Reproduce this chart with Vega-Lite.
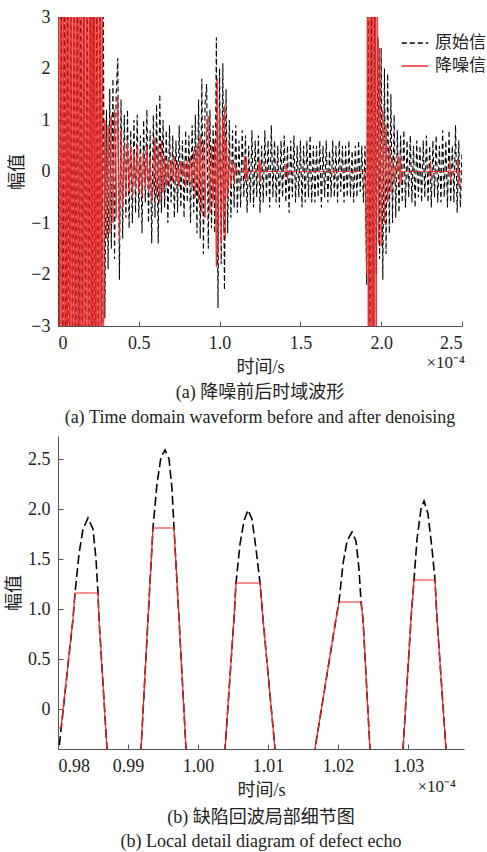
{
"$schema": "https://vega.github.io/schema/vega-lite/v6.json",
"background": "white",
"padding": {"left": 5, "top": 8, "right": 0, "bottom": 0},
"spacing": 9,
"resolve": {"scale": {"x": "independent", "y": "independent", "color": "independent", "strokeDash": "independent"}},
"config": {
  "view": {"stroke": null},
  "axis": {"grid": false, "domainColor": "#555", "tickColor": "#555", "tickSize": -5, "labelFont": "Liberation Serif, Times New Roman, serif", "labelFontSize": 18, "labelColor": "#222", "labelPadding": 13, "titleFont": "Liberation Serif, Noto Sans CJK SC", "titleFontSize": 18, "titleFontWeight": "normal", "titleColor": "#222"},
  "legend": {"padding": 0}
},
"datasets": {
"o": [{"t":0,"v":0},{"t":0.01,"v":-3.5},{"t":0.02,"v":4.6},{"t":0.03,"v":-4.5},{"t":0.04,"v":4.2},{"t":0.05,"v":-4.8},{"t":0.06,"v":4.7},{"t":0.07,"v":-4.4},{"t":0.08,"v":4.5},{"t":0.09,"v":-4.6},{"t":0.10,"v":4.8},{"t":0.11,"v":-4.3},{"t":0.12,"v":4.4},{"t":0.13,"v":-4.7},{"t":0.14,"v":4.6},{"t":0.15,"v":-4.5},{"t":0.16,"v":4.3},{"t":0.17,"v":-4.6},{"t":0.18,"v":4.7},{"t":0.19,"v":-4.4},{"t":0.20,"v":4.5},{"t":0.21,"v":-4.8},{"t":0.22,"v":4.6},{"t":0.23,"v":-4.5},{"t":0.24,"v":4.4},{"t":0.25,"v":-4.6},{"t":0.26,"v":4.5},{"t":0.27,"v":-4.7},{"t":0.28,"v":3.4},{"t":0.29,"v":-2.85},
{"t":0.30,"v":1.2},{"t":0.31,"v":-1.9},{"t":0.32,"v":1.6},{"t":0.33,"v":-1.5},{"t":0.34,"v":1.8},{"t":0.35,"v":-1.7},{"t":0.36,"v":1.5},{"t":0.37,"v":2.2},{"t":0.38,"v":-2.1},{"t":0.39,"v":1.4},{"t":0.40,"v":-1.3},{"t":0.41,"v":1.1},{"t":0.42,"v":-0.9},{"t":0.43,"v":1.2},{"t":0.44,"v":-1.1},{"t":0.45,"v":0.8},{"t":0.46,"v":-1.0},{"t":0.47,"v":1.0},{"t":0.48,"v":-0.8},{"t":0.49,"v":1.1},{"t":0.50,"v":-0.9},{"t":0.51,"v":0.7},{"t":0.52,"v":-1.2},{"t":0.53,"v":1.0},{"t":0.54,"v":-0.6},{"t":0.55,"v":1.2},{"t":0.56,"v":-1.0},{"t":0.57,"v":0.8},{"t":0.58,"v":-1.4},{"t":0.59,"v":1.1},{"t":0.60,"v":-0.9},{"t":0.61,"v":1.3},{"t":0.62,"v":-1.4},{"t":0.63,"v":1.5},{"t":0.64,"v":-0.8},{"t":0.65,"v":1.0},{"t":0.66,"v":-0.7},{"t":0.67,"v":0.8},{"t":0.68,"v":-1.0},{"t":0.69,"v":0.9},{"t":0.70,"v":-0.6},{"t":0.71,"v":0.7},{"t":0.72,"v":-0.9},{"t":0.73,"v":0.6},{"t":0.74,"v":-0.8},{"t":0.75,"v":0.9},{"t":0.76,"v":-0.7},{"t":0.77,"v":0.6},{"t":0.78,"v":-0.9},{"t":0.79,"v":0.8},{"t":0.80,"v":-0.6},{"t":0.81,"v":0.7},{"t":0.82,"v":-1.0},{"t":0.83,"v":0.9},{"t":0.84,"v":-0.8},{"t":0.85,"v":1.1},{"t":0.86,"v":-1.2},{"t":0.87,"v":1.4},{"t":0.88,"v":-1.3},{"t":0.89,"v":1.8},{"t":0.90,"v":-1.6},{"t":0.91,"v":1.3},{"t":0.92,"v":1.7},{"t":0.93,"v":-1.5},{"t":0.94,"v":1.2},{"t":0.95,"v":-1.1},{"t":0.96,"v":0.9},{"t":0.97,"v":-1.2},{"t":0.98,"v":2.6},{"t":0.99,"v":-2.65},
{"t":1.00,"v":2.0},{"t":1.01,"v":-1.8},{"t":1.02,"v":2.1},{"t":1.03,"v":-2.3},{"t":1.04,"v":1.6},{"t":1.05,"v":-1.2},{"t":1.06,"v":1.0},{"t":1.07,"v":-0.9},{"t":1.08,"v":0.8},{"t":1.09,"v":-0.7},{"t":1.10,"v":0.9},{"t":1.11,"v":-0.8},{"t":1.12,"v":0.6},{"t":1.13,"v":-0.7},{"t":1.14,"v":0.8},{"t":1.15,"v":-0.5},{"t":1.16,"v":0.7},{"t":1.17,"v":-0.8},{"t":1.18,"v":0.5},{"t":1.19,"v":-0.6},{"t":1.20,"v":0.8},{"t":1.21,"v":-0.7},{"t":1.22,"v":0.6},{"t":1.23,"v":-0.5},{"t":1.24,"v":0.7},{"t":1.25,"v":-0.8},{"t":1.26,"v":0.5},{"t":1.27,"v":-0.6},{"t":1.28,"v":0.8},{"t":1.29,"v":-0.5},{"t":1.30,"v":0.6},{"t":1.31,"v":-0.7},{"t":1.32,"v":0.9},{"t":1.33,"v":-0.5},{"t":1.34,"v":0.6},{"t":1.35,"v":-0.6},{"t":1.36,"v":0.5},{"t":1.37,"v":-0.7},{"t":1.38,"v":0.6},{"t":1.39,"v":-0.5},{"t":1.40,"v":0.7},{"t":1.41,"v":-0.6},{"t":1.42,"v":0.5},{"t":1.43,"v":-0.8},{"t":1.44,"v":0.6},{"t":1.45,"v":-0.5},{"t":1.46,"v":0.7},{"t":1.47,"v":-0.6},{"t":1.48,"v":0.5},{"t":1.49,"v":-0.5},{"t":1.50,"v":0.6},{"t":1.51,"v":-0.7},{"t":1.52,"v":0.5},{"t":1.53,"v":-0.6},{"t":1.54,"v":0.6},{"t":1.55,"v":-0.5},{"t":1.56,"v":0.7},{"t":1.57,"v":-0.6},{"t":1.58,"v":0.5},{"t":1.59,"v":-0.6},{"t":1.60,"v":0.5},{"t":1.61,"v":-0.5},{"t":1.62,"v":0.6},{"t":1.63,"v":-0.7},{"t":1.64,"v":0.5},{"t":1.65,"v":-0.5},{"t":1.66,"v":0.6},{"t":1.67,"v":-0.6},{"t":1.68,"v":0.4},{"t":1.69,"v":-0.5},{"t":1.70,"v":0.6},{"t":1.71,"v":-0.5},{"t":1.72,"v":0.5},{"t":1.73,"v":-0.6},{"t":1.74,"v":0.6},{"t":1.75,"v":-0.4},{"t":1.76,"v":0.5},{"t":1.77,"v":-0.6},{"t":1.78,"v":0.5},{"t":1.79,"v":-0.5},{"t":1.80,"v":0.6},{"t":1.81,"v":-0.5},{"t":1.82,"v":0.4},{"t":1.83,"v":-0.6},{"t":1.84,"v":0.5},{"t":1.85,"v":-0.5},{"t":1.86,"v":0.6},{"t":1.87,"v":-0.4},{"t":1.88,"v":0.5},{"t":1.89,"v":-0.6},{"t":1.90,"v":0.5},{"t":1.91,"v":-2.2},{"t":1.92,"v":3.5},{"t":1.93,"v":-3.5},{"t":1.94,"v":3.5},{"t":1.95,"v":-3.5},{"t":1.96,"v":3.5},{"t":1.97,"v":-2.0},{"t":1.98,"v":2.6},{"t":1.99,"v":-1.7},
{"t":2.00,"v":2.4},{"t":2.01,"v":-2.1},{"t":2.02,"v":2.0},{"t":2.03,"v":-1.6},{"t":2.04,"v":1.9},{"t":2.05,"v":-1.2},{"t":2.06,"v":1.5},{"t":2.07,"v":-1.0},{"t":2.08,"v":1.1},{"t":2.09,"v":-0.9},{"t":2.10,"v":0.8},{"t":2.11,"v":-0.8},{"t":2.12,"v":0.7},{"t":2.13,"v":-0.6},{"t":2.14,"v":0.8},{"t":2.15,"v":-0.7},{"t":2.16,"v":0.6},{"t":2.17,"v":-0.5},{"t":2.18,"v":0.7},{"t":2.19,"v":-0.6},{"t":2.20,"v":0.5},{"t":2.21,"v":-0.7},{"t":2.22,"v":0.6},{"t":2.23,"v":-0.5},{"t":2.24,"v":0.5},{"t":2.25,"v":-0.6},{"t":2.26,"v":0.6},{"t":2.27,"v":-0.5},{"t":2.28,"v":0.7},{"t":2.29,"v":-0.6},{"t":2.30,"v":0.5},{"t":2.31,"v":-0.7},{"t":2.32,"v":0.6},{"t":2.33,"v":-0.5},{"t":2.34,"v":0.7},{"t":2.35,"v":-0.6},{"t":2.36,"v":0.5},{"t":2.37,"v":-0.6},{"t":2.38,"v":0.8},{"t":2.39,"v":-0.5},{"t":2.40,"v":0.6},{"t":2.41,"v":-0.7},{"t":2.42,"v":0.8},{"t":2.43,"v":-0.6},{"t":2.44,"v":0.5},{"t":2.45,"v":-0.6},{"t":2.46,"v":0.9},{"t":2.47,"v":-0.8},{"t":2.48,"v":0.6},{"t":2.49,"v":-0.7},{"t":2.50,"v":0.4}],
"d": [{"t":0,"v":0},{"t":0.005,"v":4.8},{"t":0.01,"v":-4.9},{"t":0.015,"v":5.0},{"t":0.02,"v":-4.7},{"t":0.025,"v":4.9},{"t":0.03,"v":-5.0},{"t":0.035,"v":4.8},{"t":0.04,"v":-4.9},{"t":0.045,"v":5.0},{"t":0.05,"v":-4.8},{"t":0.055,"v":4.7},{"t":0.06,"v":-5.0},{"t":0.065,"v":4.9},{"t":0.07,"v":-4.8},{"t":0.075,"v":5.0},{"t":0.08,"v":-4.9},{"t":0.085,"v":4.8},{"t":0.09,"v":-4.7},{"t":0.095,"v":5.0},{"t":0.10,"v":-4.9},{"t":0.105,"v":4.8},{"t":0.11,"v":-5.0},{"t":0.115,"v":4.9},{"t":0.12,"v":-4.8},{"t":0.125,"v":4.7},{"t":0.13,"v":-4.9},{"t":0.135,"v":5.0},{"t":0.14,"v":-4.8},{"t":0.145,"v":4.9},{"t":0.15,"v":-5.0},{"t":0.155,"v":4.8},{"t":0.16,"v":-4.9},{"t":0.165,"v":5.0},{"t":0.17,"v":-4.7},{"t":0.175,"v":4.9},{"t":0.18,"v":-5.0},{"t":0.185,"v":4.8},{"t":0.19,"v":-4.9},{"t":0.195,"v":5.0},{"t":0.20,"v":-4.8},{"t":0.205,"v":4.7},{"t":0.21,"v":-5.0},{"t":0.215,"v":4.9},{"t":0.22,"v":-4.8},{"t":0.225,"v":5.0},{"t":0.23,"v":-4.9},{"t":0.235,"v":4.8},{"t":0.24,"v":-4.7},{"t":0.245,"v":5.0},{"t":0.25,"v":-4.9},{"t":0.255,"v":4.8},{"t":0.26,"v":-5.0},{"t":0.265,"v":4.9},{"t":0.27,"v":-4.8},{"t":0.275,"v":4.7},{"t":0.28,"v":-4.8},{"t":0.29,"v":1.0},
{"t":0.30,"v":-1.3},{"t":0.31,"v":0.9},{"t":0.32,"v":-1.2},{"t":0.33,"v":1.1},{"t":0.34,"v":-1.0},{"t":0.35,"v":1.2},{"t":0.36,"v":-0.9},{"t":0.37,"v":1.44},{"t":0.38,"v":-1.35},{"t":0.39,"v":0.8},{"t":0.40,"v":-0.7},{"t":0.41,"v":0.5},{"t":0.42,"v":-0.5},{"t":0.43,"v":0.6},{"t":0.44,"v":-0.4},{"t":0.45,"v":0.5},{"t":0.46,"v":-0.5},{"t":0.47,"v":0.4},{"t":0.48,"v":-0.3},{"t":0.49,"v":0.5},{"t":0.50,"v":-0.4},{"t":0.51,"v":0.3},{"t":0.52,"v":-0.5},{"t":0.53,"v":0.4},{"t":0.54,"v":-0.3},{"t":0.55,"v":0.5},{"t":0.56,"v":-0.4},{"t":0.57,"v":0.3},{"t":0.58,"v":-0.6},{"t":0.59,"v":-0.3},{"t":0.60,"v":0.65},{"t":0.61,"v":-0.5},{"t":0.62,"v":0.5},{"t":0.63,"v":-0.6},{"t":0.64,"v":0.6},{"t":0.65,"v":-0.4},{"t":0.66,"v":0.3},{"t":0.67,"v":-0.3},{"t":0.68,"v":0.2},{"t":0.69,"v":-0.3},{"t":0.70,"v":0.2},{"t":0.71,"v":-0.2},{"t":0.72,"v":0.3},{"t":0.73,"v":-0.2},{"t":0.74,"v":0.2},{"t":0.75,"v":-0.3},{"t":0.76,"v":0.2},{"t":0.77,"v":-0.1},{"t":0.78,"v":0.2},{"t":0.79,"v":-0.3},{"t":0.80,"v":0.2},{"t":0.81,"v":-0.2},{"t":0.82,"v":0.3},{"t":0.83,"v":-0.3},{"t":0.84,"v":0.4},{"t":0.85,"v":-0.5},{"t":0.86,"v":0.5},{"t":0.87,"v":-0.6},{"t":0.88,"v":0.7},{"t":0.89,"v":-0.8},{"t":0.90,"v":0.6},{"t":0.91,"v":-0.9},{"t":0.92,"v":0.8},{"t":0.93,"v":1.08},{"t":0.94,"v":-0.8},{"t":0.95,"v":0.5},{"t":0.96,"v":-0.6},{"t":0.97,"v":0.6},{"t":0.98,"v":-1.85},{"t":0.985,"v":1.8},{"t":0.99,"v":-1.6},{"t":1.00,"v":1.25},{"t":1.01,"v":-1.4},{"t":1.02,"v":1.06},{"t":1.025,"v":-1.2},{"t":1.03,"v":1.29},{"t":1.035,"v":-1.3},{"t":1.04,"v":0.6},{"t":1.05,"v":-0.5},{"t":1.06,"v":0.3},{"t":1.07,"v":-0.3},{"t":1.08,"v":0.2},{"t":1.09,"v":-0.2},{"t":1.10,"v":0.1},{"t":1.11,"v":0},
{"t":1.15,"v":0},{"t":1.155,"v":0.3},{"t":1.16,"v":-0.2},{"t":1.165,"v":0.25},{"t":1.17,"v":-0.15},{"t":1.175,"v":0},{"t":1.24,"v":0},{"t":1.245,"v":0.2},{"t":1.25,"v":-0.2},{"t":1.255,"v":0.15},{"t":1.26,"v":0},{"t":1.41,"v":0},{"t":1.415,"v":0.15},{"t":1.42,"v":-0.15},{"t":1.425,"v":0},{"t":1.70,"v":0},{"t":1.705,"v":0.05},{"t":1.71,"v":-0.05},{"t":1.715,"v":0},{"t":1.90,"v":0},{"t":1.91,"v":-2.0},{"t":1.915,"v":5.0},{"t":1.92,"v":-5.0},{"t":1.925,"v":4.8},{"t":1.93,"v":-4.9},{"t":1.935,"v":5.0},{"t":1.94,"v":-4.8},{"t":1.945,"v":5.0},{"t":1.95,"v":-5.0},{"t":1.955,"v":4.9},{"t":1.96,"v":-4.8},{"t":1.965,"v":5.0},{"t":1.97,"v":-4.9},{"t":1.975,"v":4.8},{"t":1.98,"v":1.8},{"t":1.985,"v":-1.4},{"t":1.99,"v":2.4},{"t":2.00,"v":-1.45},{"t":2.01,"v":1.2},{"t":2.02,"v":-1.0},{"t":2.03,"v":0.9},{"t":2.04,"v":-0.6},{"t":2.05,"v":0.5},{"t":2.06,"v":-0.4},{"t":2.07,"v":0.3},{"t":2.08,"v":-0.2},{"t":2.09,"v":0.1},{"t":2.10,"v":0},{"t":2.11,"v":0.3},{"t":2.115,"v":-0.3},{"t":2.12,"v":0.25},{"t":2.125,"v":-0.2},{"t":2.13,"v":0},{"t":2.30,"v":0},{"t":2.305,"v":0.2},{"t":2.31,"v":-0.15},{"t":2.315,"v":0},{"t":2.42,"v":0},{"t":2.425,"v":0.2},{"t":2.43,"v":-0.2},{"t":2.435,"v":0},{"t":2.47,"v":0},{"t":2.475,"v":0.25},{"t":2.48,"v":-0.3},{"t":2.485,"v":0},{"t":2.50,"v":0}],
"ob": [{"t":0.98,"v":-0.49},{"t":0.98214,"v":0.9},{"t":0.98243,"v":1.16},{"t":0.983,"v":1.55},{"t":0.98357,"v":1.8},{"t":0.98429,"v":1.91},{"t":0.985,"v":1.8},{"t":0.98543,"v":1.5},{"t":0.98571,"v":1.16},{"t":0.98586,"v":0.9},{"t":0.987,"v":-0.4},{"t":0.98814,"v":-1.3},{"t":0.98943,"v":-1.6},{"t":0.99071,"v":-1.3},{"t":0.99186,"v":-0.4},{"t":0.99286,"v":0.9},{"t":0.99357,"v":1.81},{"t":0.99414,"v":2.25},{"t":0.99471,"v":2.52},{"t":0.99529,"v":2.59},{"t":0.99586,"v":2.5},{"t":0.99629,"v":2.2},{"t":0.99657,"v":1.81},{"t":0.99729,"v":0.9},{"t":0.99829,"v":-0.4},{"t":0.99957,"v":-1.4},{"t":1.001,"v":-1.8},{"t":1.00243,"v":-1.4},{"t":1.00386,"v":-0.4},{"t":1.00514,"v":0.9},{"t":1.00543,"v":1.26},{"t":1.006,"v":1.65},{"t":1.00657,"v":1.88},{"t":1.00714,"v":1.99},{"t":1.00771,"v":1.9},{"t":1.00829,"v":1.6},{"t":1.00886,"v":1.26},{"t":1.00929,"v":0.9},{"t":1.011,"v":-0.4},{"t":1.01243,"v":-1.2},{"t":1.01386,"v":-1.5},{"t":1.01529,"v":-1.2},{"t":1.01671,"v":-0.4},{"t":1.01971,"v":0.9},{"t":1.02014,"v":1.07},{"t":1.02071,"v":1.45},{"t":1.02129,"v":1.68},{"t":1.022,"v":1.77},{"t":1.02257,"v":1.68},{"t":1.023,"v":1.4},{"t":1.02329,"v":1.07},{"t":1.02357,"v":0.9},{"t":1.02457,"v":-0.4},{"t":1.02586,"v":-1.3},{"t":1.027,"v":-1.6},{"t":1.02814,"v":-1.3},{"t":1.02929,"v":-0.4},{"t":1.03043,"v":0.9},{"t":1.03086,"v":1.29},{"t":1.03129,"v":1.7},{"t":1.03186,"v":2.0},{"t":1.03229,"v":2.08},{"t":1.03286,"v":1.95},{"t":1.03343,"v":1.6},{"t":1.03386,"v":1.29},{"t":1.03414,"v":0.9},{"t":1.03543,"v":-0.4},{"t":1.03671,"v":-1.3},{"t":1.038,"v":-1.6}],
"db": [{"t":0.98,"v":-0.19},{"t":0.98043,"v":-0.19},{"t":0.98214,"v":0.9},{"t":0.98243,"v":1.16},{"t":0.98571,"v":1.16},{"t":0.98586,"v":0.9},{"t":0.987,"v":-0.4},{"t":0.98843,"v":-1.2},{"t":0.99057,"v":-1.2},{"t":0.99186,"v":-0.4},{"t":0.99286,"v":0.9},{"t":0.99357,"v":1.81},{"t":0.99657,"v":1.81},{"t":0.99729,"v":0.9},{"t":0.99829,"v":-0.4},{"t":0.99986,"v":-1.3},{"t":1.00243,"v":-1.3},{"t":1.00386,"v":-0.4},{"t":1.00514,"v":0.9},{"t":1.00543,"v":1.26},{"t":1.00886,"v":1.26},{"t":1.00929,"v":0.9},{"t":1.011,"v":-0.4},{"t":1.01271,"v":-1.1},{"t":1.01529,"v":-1.1},{"t":1.01671,"v":-0.4},{"t":1.01971,"v":0.9},{"t":1.02014,"v":1.07},{"t":1.02329,"v":1.07},{"t":1.02357,"v":0.9},{"t":1.02457,"v":-0.4},{"t":1.02629,"v":-1.2},{"t":1.02786,"v":-1.2},{"t":1.02929,"v":-0.4},{"t":1.03043,"v":0.9},{"t":1.03086,"v":1.29},{"t":1.03386,"v":1.29},{"t":1.03414,"v":0.9},{"t":1.03543,"v":-0.4},{"t":1.037,"v":-1.2},{"t":1.038,"v":-1.2}]
},
"vconcat": [
{
  "width": 404, "height": 309,
  "title": {"text": ["(a) 降噪前后时域波形", "(a) Time domain waveform before and after denoising"], "orient": "bottom", "anchor": "middle", "frame": "group", "font": "Liberation Serif, Noto Sans CJK SC", "fontSize": 18, "fontWeight": "normal", "color": "#222", "lineHeight": 25, "offset": 8},
  "layer": [
    {"data": {"name": "o"}, "mark": {"type": "line", "clip": true, "strokeWidth": 1.1},
     "encoding": {
       "x": {"field": "t", "type": "quantitative", "scale": {"domain": [0, 2.5], "nice": false, "zero": false}, "axis": {"values": [0, 0.5, 1, 1.5, 2, 2.5], "labelExpr": "datum.value == 0 ? '0' : format(datum.value, '.1f')", "title": "时间/s", "titlePadding": 6}},
       "y": {"field": "v", "type": "quantitative", "scale": {"domain": [-3, 3], "nice": false}, "axis": {"values": [-3, -2, -1, 0, 1, 2, 3], "format": "d", "title": "幅值", "titlePadding": 4}},
       "color": {"datum": "原始信号", "type": "nominal", "scale": {"domain": ["原始信号", "降噪信号"], "range": ["#000000", "#ee2424"]}, "legend": {"title": null, "orient": "none", "legendX": 343, "legendY": 12, "symbolType": "stroke", "symbolSize": 700, "symbolStrokeWidth": 1.3, "labelFont": "Noto Sans CJK SC", "labelFontSize": 17, "labelColor": "#222", "labelOffset": 6, "rowPadding": 1}},
       "strokeDash": {"datum": "原始信号", "type": "nominal", "scale": {"domain": ["原始信号", "降噪信号"], "range": [[5, 3], [1, 0]]}, "legend": {"title": null, "orient": "none", "legendX": 343, "legendY": 12, "symbolType": "stroke", "symbolSize": 700, "symbolStrokeWidth": 1.3, "labelFont": "Noto Sans CJK SC", "labelFontSize": 17, "labelColor": "#222", "labelOffset": 6, "rowPadding": 1}}
     }},
    {"data": {"name": "d"}, "mark": {"type": "line", "clip": true, "strokeWidth": 1},
     "encoding": {
       "x": {"field": "t", "type": "quantitative"},
       "y": {"field": "v", "type": "quantitative"},
       "color": {"datum": "降噪信号", "type": "nominal"},
       "strokeDash": {"datum": "降噪信号", "type": "nominal"}
     }},
    {"data": {"values": [{}]}, "mark": {"type": "text", "text": "×10⁻⁴", "align": "right", "baseline": "middle", "dx": 3, "dy": 37, "font": "Liberation Serif", "fontSize": 17, "color": "#222"},
     "encoding": {"x": {"datum": 2.5, "type": "quantitative"}, "y": {"datum": -3, "type": "quantitative"}}}
  ]
},
{
  "width": 406, "height": 313,
  "title": {"text": ["(b) 缺陷回波局部细节图", "(b) Local detail diagram of defect echo"], "orient": "bottom", "anchor": "middle", "frame": "group", "font": "Liberation Serif, Noto Sans CJK SC", "fontSize": 18, "fontWeight": "normal", "color": "#222", "lineHeight": 24, "offset": 10},
  "layer": [
    {"data": {"name": "ob"}, "mark": {"type": "line", "clip": true, "strokeWidth": 1.6, "color": "#000000", "strokeDash": [9, 4]},
     "encoding": {
       "x": {"field": "t", "type": "quantitative", "scale": {"domain": [0.98, 1.038], "nice": false, "zero": false}, "axis": {"values": [0.98, 0.99, 1.0, 1.01, 1.02, 1.03], "format": ".2f", "title": "时间/s", "titlePadding": 6}},
       "y": {"field": "v", "type": "quantitative", "scale": {"domain": [-0.4, 2.73], "nice": false, "zero": false}, "axis": {"values": [0, 0.5, 1, 1.5, 2, 2.5], "labelExpr": "datum.value == 0 ? '0' : format(datum.value, '.1f')", "title": "幅值", "titlePadding": 4}}
     }},
    {"data": {"name": "db"}, "mark": {"type": "line", "clip": true, "strokeWidth": 1.2, "color": "#ee2424"},
     "encoding": {
       "x": {"field": "t", "type": "quantitative"},
       "y": {"field": "v", "type": "quantitative"}
     }},
    {"data": {"values": [{}]}, "mark": {"type": "text", "text": "×10⁻⁴", "align": "right", "baseline": "middle", "dx": -8, "dy": 38, "font": "Liberation Serif", "fontSize": 17, "color": "#222"},
     "encoding": {"x": {"datum": 1.038, "type": "quantitative"}, "y": {"datum": -0.4, "type": "quantitative"}}}
  ]
}
]
}
